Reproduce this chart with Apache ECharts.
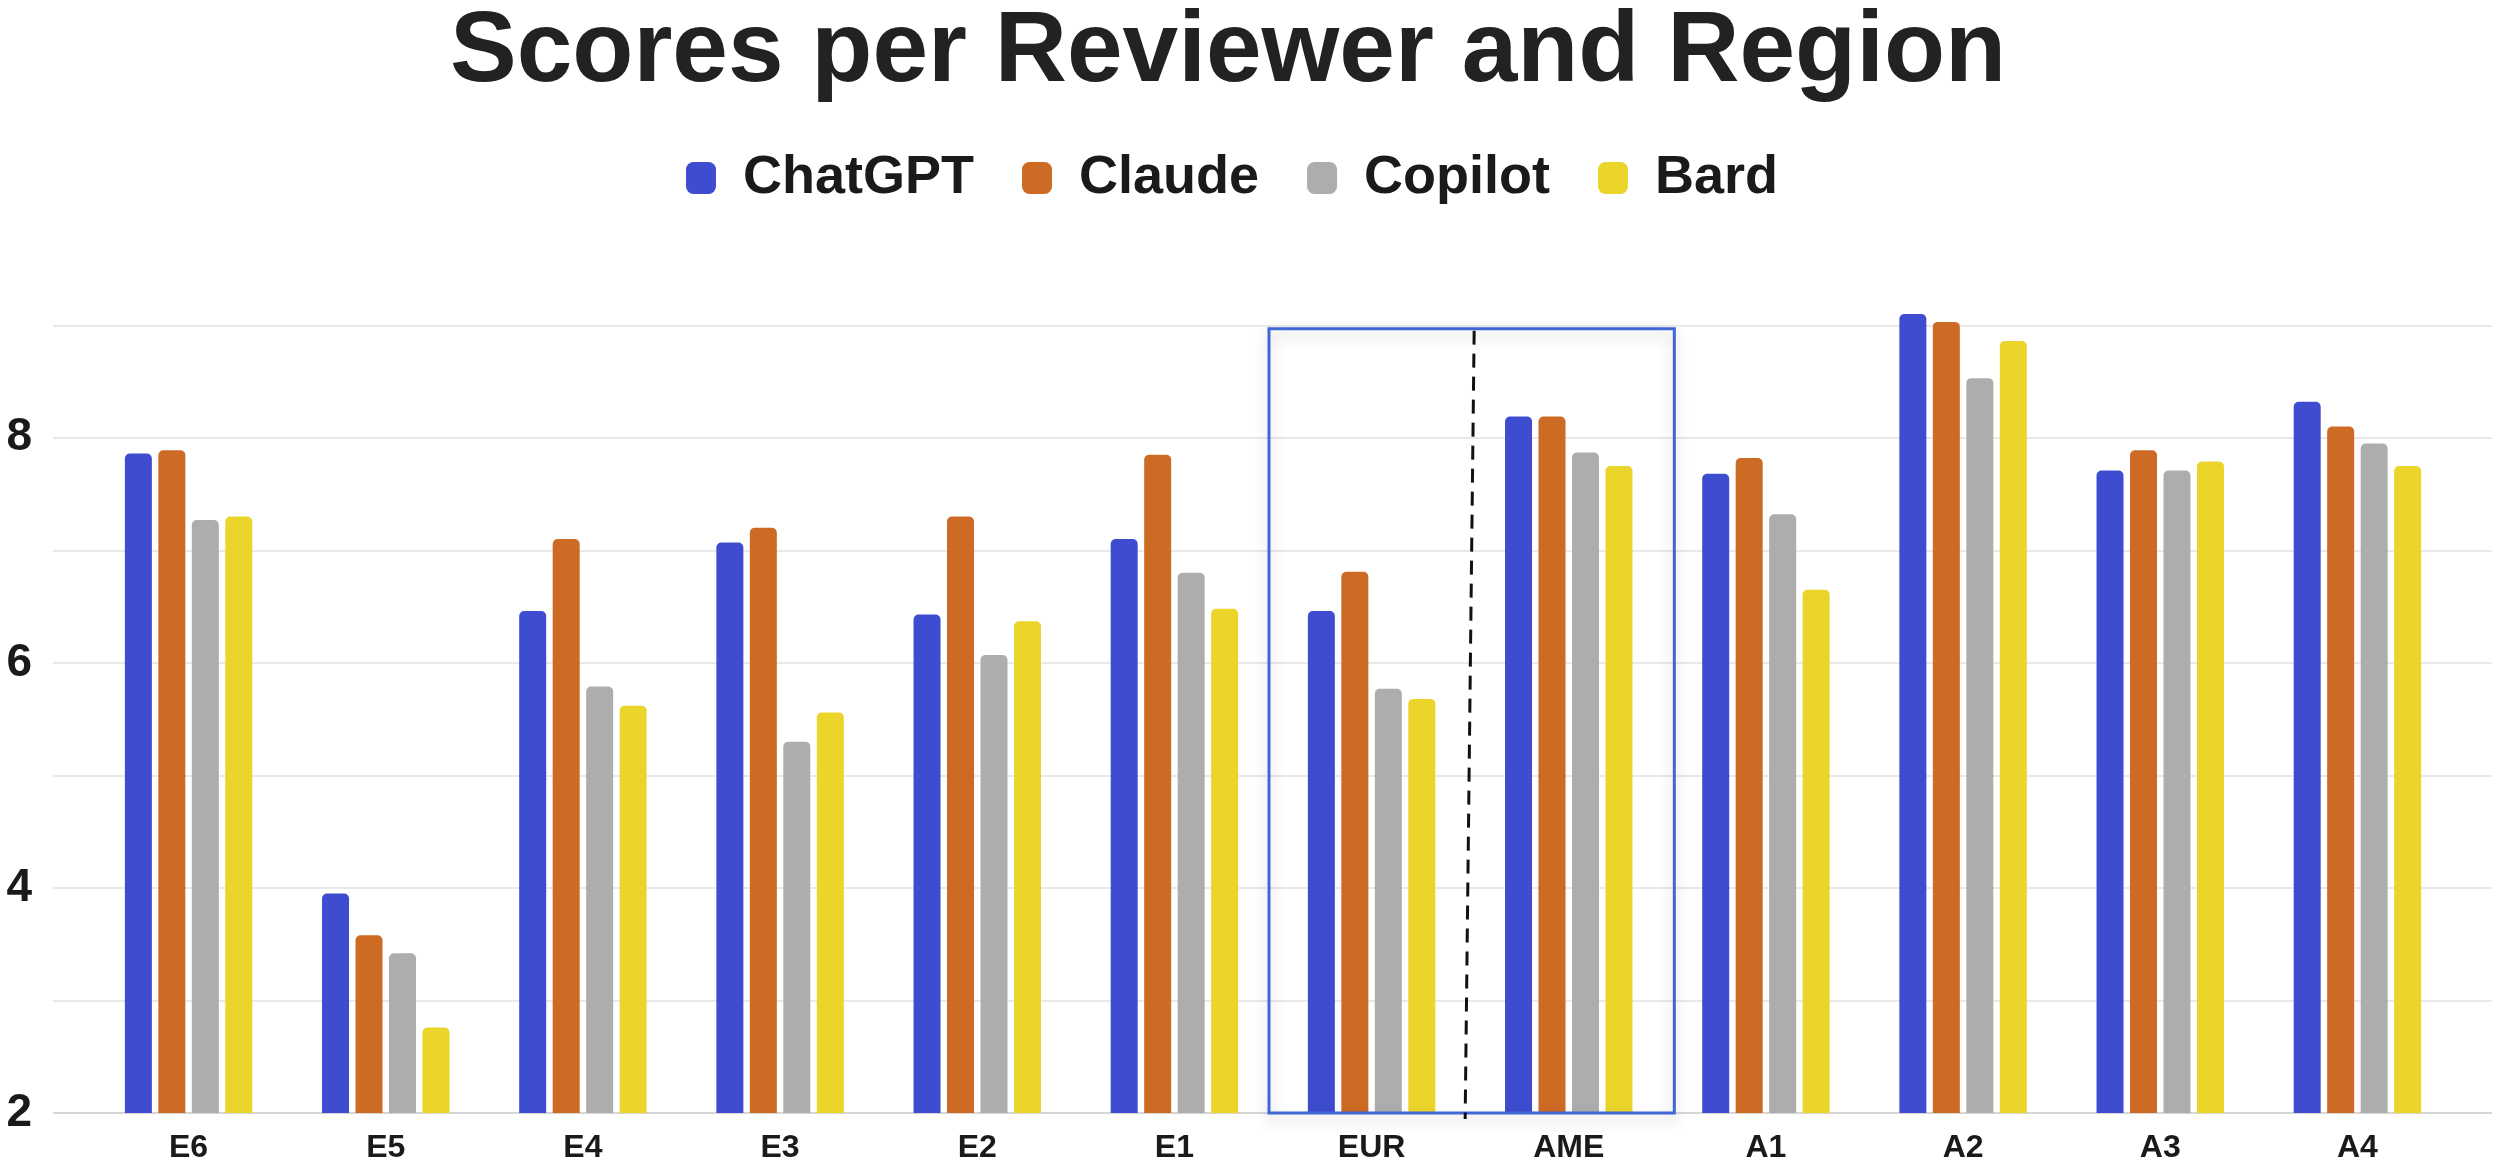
<!DOCTYPE html>
<html>
<head>
<meta charset="utf-8">
<script src="https://cdn.jsdelivr.net/npm/echarts@6/dist/echarts.min.js"></script>
<style>
html,body{margin:0;padding:0;background:#fff;}
#chart{width:2500px;height:1168px;}
</style>
</head>
<body>
<div id="chart"></div>
<script>
const categories = ['E6','E5','E4','E3','E2','E1','EUR','AME','A1','A2','A3','A4'];
const seriesNames = ['ChatGPT','Claude','Copilot','Bard'];
const chatgpt = [7.86, 3.95, 6.46, 7.07, 6.43, 7.10, 6.46, 8.19, 7.68, 9.10, 7.71, 8.32];
const claude  = [7.89, 3.58, 7.10, 7.20, 7.30, 7.85, 6.81, 8.19, 7.82, 9.03, 7.89, 8.10];
const copilot = [7.27, 3.42, 5.79, 5.30, 6.07, 6.80, 5.77, 7.87, 7.32, 8.53, 7.71, 7.95];
const bard    = [7.30, 2.76, 5.62, 5.56, 6.37, 6.48, 5.68, 7.75, 6.65, 8.86, 7.79, 7.75];
const yTicks = [2, 4, 6, 8];
const boxFrom = 'EUR', boxTo = 'AME', boxTop = 8.97;

const colors = ['#3e4dcf', '#cd6a23', '#adadad', '#ebd52b'];
const FONT = "'Liberation Sans', Arial, sans-serif";

const chart = echarts.init(document.getElementById('chart'), null, {renderer: 'canvas'});

const seriesData = [chatgpt, claude, copilot, bard];
const option = {
  backgroundColor: '#ffffff',
  animation: false,
  title: {
    text: 'Scores per Reviewer and Region',
    left: 450,
    top: 3,
    padding: 0,
    textStyle: {fontSize: 100, fontWeight: 'bold', color: '#222222', fontFamily: FONT}
  },
  legend: {
    data: seriesNames,
    left: 681,
    top: 146,
    itemWidth: 30,
    itemHeight: 32,
    itemGap: 48,
    icon: 'roundRect',
    textStyle: {fontSize: 54, fontWeight: 'bold', color: '#1a1a1a', fontFamily: FONT, padding: [0, 0, 0, 22]}
  },
  grid: [
    {left: 90, right: 44, top: 269, bottom: 55},
    {left: 53, right: 8, top: 269, bottom: 55}
  ],
  xAxis: [
    {
      type: 'category', gridIndex: 0, data: categories,
      axisLine: {show: false}, axisTick: {show: false},
      axisLabel: {fontSize: 32, fontWeight: 'bold', color: '#1a1a1a', fontFamily: FONT, margin: 19},
      splitLine: {show: false}
    },
    {type: 'value', gridIndex: 1, min: 0, max: 1, show: false}
  ],
  yAxis: [
    {type: 'value', gridIndex: 0, min: 2, max: 9.5, interval: 1, show: false, splitLine: {show: false}},
    {
      type: 'value', gridIndex: 1, min: 2, max: 9.5, interval: 1,
      axisLine: {show: false}, axisTick: {show: false},
      axisLabel: {
        fontSize: 46, fontWeight: 'bold', color: '#1a1a1a', fontFamily: FONT, margin: 21,
        formatter: v => (yTicks.indexOf(v) >= 0 ? String(v) : '')
      },
      splitLine: {
        show: true, showMaxLine: false,
        lineStyle: {width: 2, color: ['#d6d6d6', '#e9e9e9', '#e9e9e9', '#e9e9e9', '#e9e9e9', '#e9e9e9', '#e9e9e9', '#e9e9e9', 'rgba(0,0,0,0)']}
      }
    }
  ],
  series: seriesNames.map((name, i) => ({
    name: name,
    type: 'bar',
    xAxisIndex: 0, yAxisIndex: 0,
    data: seriesData[i],
    barWidth: 27,
    barGap: '24%',
    itemStyle: {color: colors[i], borderRadius: [5, 5, 0, 0]}
  }))
};
chart.setOption(option);

const xa = chart.convertToPixel({xAxisIndex: 0}, boxFrom);
const xb = chart.convertToPixel({xAxisIndex: 0}, boxTo);
const bw = xb - xa;
const bx0 = xa - bw / 2 - 4;
const bx1 = xb + bw / 2 + 7;
const byTop = chart.convertToPixel({yAxisIndex: 0}, boxTop);
const byBot = chart.convertToPixel({yAxisIndex: 0}, 2);
const xmid = (xa + xb) / 2;

chart.setOption({
  graphic: [
    {
      type: 'rect', z: 10,
      shape: {x: bx0, y: byTop, width: bx1 - bx0, height: byBot - byTop},
      style: {fill: 'none', stroke: '#4166d5', lineWidth: 3, shadowBlur: 14, shadowColor: 'rgba(0,0,0,0.22)', shadowOffsetY: 6}
    },
    {
      type: 'line', z: 11,
      shape: {x1: xmid + 4, y1: byTop + 2, x2: xmid - 5, y2: byBot + 6},
      style: {stroke: '#111111', lineWidth: 3, lineDash: [14, 9]}
    }
  ]
});
</script>
</body>
</html>
